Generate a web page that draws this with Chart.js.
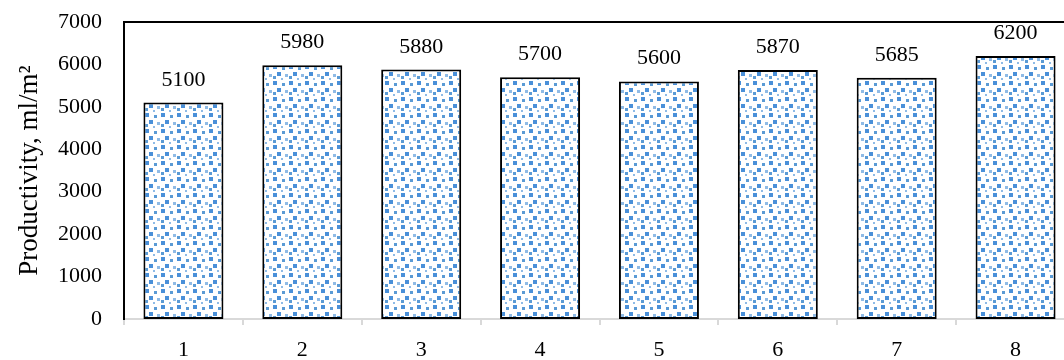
<!DOCTYPE html>
<html>
<head>
<meta charset="utf-8">
<script src="https://cdn.jsdelivr.net/npm/chart.js@4"></script>
<style>
  body { margin: 0; overflow: hidden; background: #fff; }
  #wrap { width: 1090px; height: 360px; }
</style>
</head>
<body>
<div id="wrap"><canvas id="chart"></canvas></div>
<script>
const categories = ["1", "2", "3", "4", "5", "6", "7", "8"];
const productivity = [5100, 5980, 5880, 5700, 5600, 5870, 5685, 6200];
const yTicks = [0, 1000, 2000, 3000, 4000, 5000, 6000, 7000];

const serif = "'Liberation Serif', 'Times New Roman', serif";

// confetti-like fill, like the excel pattern
function makePattern() {
    const tile = document.createElement("canvas");
    tile.width = 16;
    tile.height = 16;
    const t = tile.getContext("2d");
    t.fillStyle = "#fff";
    t.fillRect(0, 0, 16, 16);
    const sq = [[1, 1, 4, "#4a90d9"], [10, 3, 3, "#5b9bd5"], [5, 8, 4, "#4a90d9"],
                [13, 10, 3, "#8fbbe6"], [1, 12, 3, "#5b9bd5"], [9, 14, 2, "#8fbbe6"]];
    sq.forEach(([x, y, s, c]) => { t.fillStyle = c; t.fillRect(x, y, s, s); });
    return t.createPattern(tile, "repeat");
}

const extras = {
    id: "extras",
    afterDatasetsDraw(chart) {
        const ctx = chart.ctx;
        const area = chart.chartArea;
        ctx.save();
        // top frame line
        ctx.strokeStyle = "#000";
        ctx.lineWidth = 2;
        ctx.beginPath();
        ctx.moveTo(area.left - 1, area.top);
        ctx.lineTo(chart.width, area.top);
        ctx.stroke();
        // value labels
        ctx.fillStyle = "#000";
        ctx.font = "22px " + serif;
        ctx.textAlign = "center";
        ctx.textBaseline = "alphabetic";
        chart.getDatasetMeta(0).data.forEach((bar, i) => {
            ctx.fillText(String(productivity[i]), bar.x, bar.y - 17);
        });
        ctx.restore();
    }
};

new Chart(document.getElementById("chart"), {
    type: "bar",
    data: {
        labels: categories,
        datasets: [{
            data: productivity,
            backgroundColor: makePattern(),
            borderColor: "#000",
            borderWidth: 2,
            borderSkipped: false,
            barPercentage: 0.673,
            categoryPercentage: 1
        }]
    },
    options: {
        responsive: true,
        maintainAspectRatio: false,
        animation: false,
        layout: { padding: { top: 22, right: 15, left: 0, bottom: 0 } },
        plugins: { legend: { display: false }, tooltip: { enabled: false } },
        scales: {
            x: {
                offset: true,
                afterFit(scale) { scale.height = 41; },
                grid: { offset: true, drawOnChartArea: false, tickLength: 6, color: "#d9d9d9", lineWidth: 2 },
                border: { color: "#d9d9d9", width: 2 },
                ticks: { color: "#000", font: { family: serif, size: 22 }, padding: 12 }
            },
            y: {
                min: 0,
                max: 7000,
                afterFit(scale) {
                    scale.width = 124;
                    scale.paddingTop = 0;
                    scale.paddingBottom = 0;
                },
                afterBuildTicks(scale) { scale.ticks = yTicks.map(v => ({ value: v })); },
                grid: { display: false, drawTicks: false },
                border: { color: "#000", width: 2 },
                ticks: {
                    color: "#000",
                    font: { family: serif, size: 22 },
                    padding: 22,
                    callback: v => String(v)
                },
                title: {
                    display: true,
                    text: "Productivity, ml/m²",
                    color: "#000",
                    font: { family: serif, size: 27 },
                    padding: { top: 14, bottom: 0 }
                }
            }
        }
    },
    plugins: [extras]
});
</script>
</body>
</html>
